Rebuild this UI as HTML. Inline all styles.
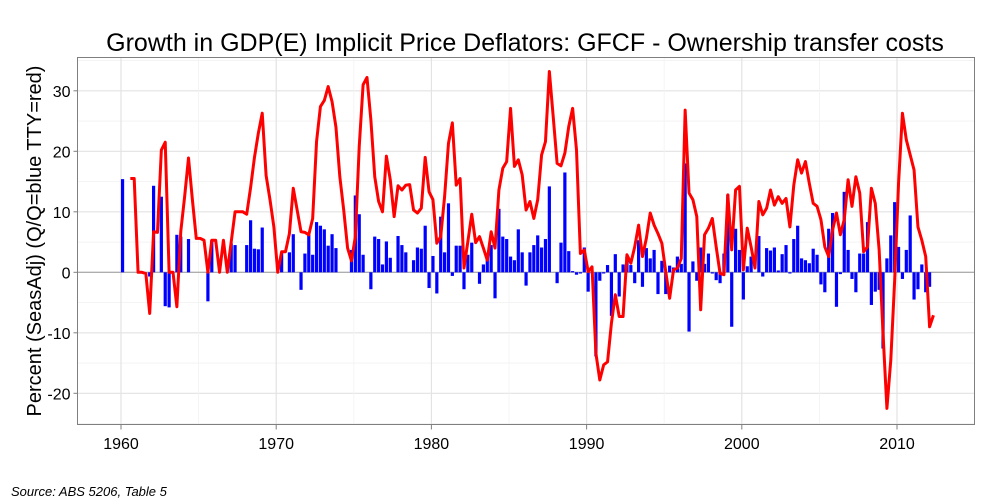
<!DOCTYPE html>
<html><head><meta charset="utf-8"><style>
body{margin:0;background:#fff;font-family:"Liberation Sans",sans-serif;}
svg{display:block}
</style></head><body>
<svg id="chart" width="1000" height="500" xmlns="http://www.w3.org/2000/svg">
<rect x="0" y="0" width="1000" height="500" fill="#fff"/>
<text x="525" y="51" font-size="25" text-anchor="middle" fill="#000">Growth in GDP(E) Implicit Price Deflators: GFCF - Ownership transfer costs</text>
<text transform="translate(41,241) rotate(-90)" font-size="20" text-anchor="middle" fill="#000">Percent (SeasAdj) (Q/Q=blue TTY=red)</text>
<text x="11" y="496" font-size="13" font-style="italic" fill="#000">Source: ABS 5206, Table 5</text>
<g id="grid"></g>
<g id="bars"></g>
<g id="lines"></g>
<rect x="77.5" y="57.5" width="897" height="367" fill="none" stroke="#7f7f7f" stroke-width="1"/>
<g id="axes"></g>
</svg>
<script>
const startYear = 1960;
const yTicks = [30, 20, 10, 0, -10, -20];
const xTicks = [1960, 1970, 1980, 1990, 2000, 2010];
const qqValues = [15.4,0,0,0,0,0,0,-0.7,14.3,0,12.5,-5.6,-5.8,0,6.2,5.9,0,5.5,0,0,0,0,-4.8,5.3,0,0,0,0,4.8,4.5,0,0,4.5,8.6,3.9,3.8,7.4,0,0,0,0,3.3,0,3.3,6.3,0,-2.9,3.1,6.2,2.9,8.3,7.7,7.1,4.4,6.3,4.0,0,0,0,3.7,12.7,9.6,2.9,0,-2.8,5.9,5.5,1.3,5.1,2.4,0,6.0,4.5,3.3,0,2.0,4.1,3.9,7.7,-2.6,2.7,-3.5,9.2,3.3,11.4,-0.6,4.4,4.4,-2.8,2.9,4.9,0,-1.9,1.3,3.0,4.5,-4.3,10.5,5.9,5.5,2.6,2.0,7.1,3.3,-2.2,3.3,4.5,6.1,4.1,5.5,14.2,0,-1.8,4.9,16.5,3.5,0.2,-0.4,-0.2,4.1,-3.2,-0.2,-13.9,-1.4,-0.2,1.2,-7.2,3.0,-4.0,1.3,2.6,1.2,-1.8,5.3,-2.4,4.0,2.3,3.7,-3.6,1.9,-3.6,1.1,0.8,2.6,1.4,18.0,-9.8,1.8,-1.4,4.1,1.4,3.1,-0.2,-1.3,-1.8,3.1,12.8,-9.0,7.2,3.7,-4.5,1.0,2.6,0,6.0,-0.7,4.0,3.6,4.1,0.3,3.0,4.5,-0.2,5.5,7.7,2.3,2.0,1.5,3.9,2.9,-2.0,-3.3,7.2,9.8,-5.7,-0.3,13.3,3.7,-1.1,-3.3,3.1,3.1,8.3,-5.4,-3.2,-2.9,-12.6,2.3,6.1,11.6,4.2,-1.1,3.7,9.4,-4.5,-2.8,1.3,-3.3,-2.4];
const ttyValues = [null,null,15.5,15.5,0,0,-0.2,-6.8,6.7,6.6,20.2,21.5,0,0,-5.7,6.7,12.5,18.9,12,5.6,5.6,5.3,0,5.3,5.3,0,5.3,0,5,10,10,10,9.6,14,19,23,26.3,16,12,7.5,0,3.4,3.4,6.4,13.9,10.3,6.7,6.6,6.2,8.9,21.6,27.4,28.4,30.7,28.2,24,15.8,10.3,4,1.9,5.9,20.8,31,32.2,25.2,15.8,11.7,10,19.2,15.3,9.2,14.3,13.6,14.4,14.5,10.3,9.8,10.6,19,13.3,12,4.8,5.9,12.5,21.3,24.7,14.4,15.5,0.7,5.1,9.6,4.9,5.9,4,2,6.7,4,13.6,17.2,18.3,27.1,17.5,18.6,16.1,10.3,11.7,8.9,12,19.4,21.6,33.2,25.7,18,17.6,19.7,24.1,27.1,20.2,3.1,3.7,0.1,0.9,-13.4,-17.8,-15.3,-14.8,-8.4,-3.7,-7.3,-7.3,2.9,1.5,4.2,7.8,2.6,5.6,9.8,7.8,6.4,4.8,0.1,-4.3,0.4,0.7,2.3,26.8,13.1,12,9.2,-6.2,6.2,7.3,8.9,4.2,-0.2,-0.4,12.8,3.7,13.6,14.2,0.4,7.3,4.2,0.7,11.7,9.5,10.6,13.6,11.1,12.5,11.4,12.2,7.5,14.4,18.6,16.4,18.3,14.7,11.4,10.9,8.7,4.2,2.6,7,9.8,6.2,8.7,15.3,10.9,15.8,13.1,3.4,4.2,13.9,11.4,3.7,-10.1,-22.5,-14.5,-1.3,14.7,26.3,21.9,19.4,16.9,7.5,5.3,2.6,-9,-7.1];

const NS = "http://www.w3.org/2000/svg";
const X0 = 77.5, X1 = 974.5, Y0 = 57.5, Y1 = 424.5;
function xs(year){ return 121 + (year - 1960) * 15.52; }
function ys(v){ return 272.3 - v * 6.05; }
function mk(tag, attrs, parent){ const e = document.createElementNS(NS, tag); for (const k in attrs) e.setAttribute(k, attrs[k]); parent.appendChild(e); return e; }

const grid = document.getElementById('grid');
for (let v = -25; v <= 35; v += 5) {
  const y = ys(v); if (y < Y0 || y > Y1) continue;
  const major = v % 10 === 0;
  const l = mk('line', {x1:X0, x2:X1, y1:y, y2:y, stroke: major ? '#e3e3e3' : '#f2f2f2', 'stroke-width': major ? 1.2 : 0.8}, grid);
  
  
}
for (let yr = 1955; yr <= 2015; yr += 5) {
  const x = xs(yr); if (x < X0 || x > X1) continue;
  const major = yr % 10 === 0;
  const l = mk('line', {x1:x, x2:x, y1:Y0, y2:Y1, stroke: major ? '#e3e3e3' : '#f2f2f2', 'stroke-width': major ? 1.2 : 0.8}, grid);
  
  
}
const zl = mk('line', {x1:X0, x2:X1, y1:ys(0), y2:ys(0), stroke:'#999', 'stroke-width':1}, grid);



const bars = document.getElementById('bars');
qqValues.forEach((v, i) => {
  if (v === null || v === 0) return;
  const x = xs(startYear + i / 4 + 0.1);
  const y = Math.min(ys(v), ys(0)), h = Math.abs(ys(v) - ys(0));
  const r = mk('rect', {x: x - 1.6, y: y, width: 3.2, height: h, fill: '#0000ff'}, bars);
  
  
});

const lines = document.getElementById('lines');
let d = '', started = false;
ttyValues.forEach((v, i) => {
  if (v === null) { started = false; return; }
  const x = xs(startYear + i / 4 + 0.1), y = ys(v);
  d += (started ? 'L' : 'M') + x.toFixed(2) + ',' + y.toFixed(2);
  started = true;
});
const p = mk('path', {d: d, fill: 'none', stroke: '#ff0000', 'stroke-width': 3, 'stroke-linejoin': 'round'}, lines);



const axes = document.getElementById('axes');
yTicks.forEach(v => {
  const y = ys(v);
  const t = mk('line', {x1: X0 - 4, x2: X0, y1: y, y2: y, stroke: '#7f7f7f'}, axes);
  
  
  const lb = mk('text', {x: X0 - 7, y: y + 6, 'font-size': 16, 'text-anchor': 'end', fill: '#000'}, axes);
  lb.textContent = v;
  
  
});
xTicks.forEach(yr => {
  const x = xs(yr);
  const t = mk('line', {x1: x, x2: x, y1: Y1, y2: Y1 + 5, stroke: '#7f7f7f'}, axes);
  
  
  const lb = mk('text', {x: x, y: 449, 'font-size': 16, 'text-anchor': 'middle', fill: '#000'}, axes);
  lb.textContent = yr;
  
  
});
</script>
</body></html>
